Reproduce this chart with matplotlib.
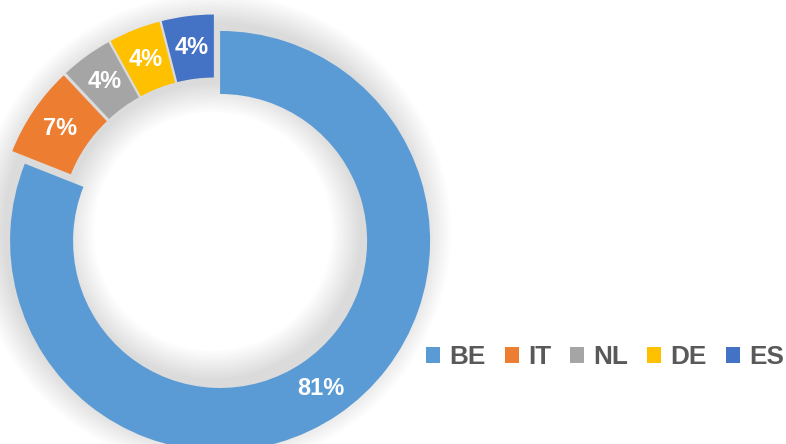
import matplotlib
matplotlib.use("Agg")
import matplotlib.pyplot as plt
from matplotlib.patches import Patch, Wedge

categories = ["BE", "IT", "NL", "DE", "ES"]
values = [81, 7, 4, 4, 4]
labels = ["81%", "7%", "4%", "4%", "4%"]
colors = ["#5B9BD5", "#ED7D31", "#A5A5A5", "#FFC000", "#4472C4"]

W, H = 786, 444
fig = plt.figure(figsize=(W / 100, H / 100), dpi=100)
ax = fig.add_axes([0, 0, 1, 1])
R = 210.0
cx, cy = 215.0, 233.5
ax.set_xlim(-cx / R, (W - cx) / R)
ax.set_ylim((cy - H) / R, cy / R)
ax.set_aspect("equal")
ax.axis("off")

# soft shadow
for i in range(12):
    ax.add_patch(Wedge((-0.01, 0.01), 1.0 + 0.012 * i, 0, 360, width=0.30 + 0.024 * i,
                       facecolor="black", alpha=0.012, edgecolor="none", zorder=0))

wedges, texts = ax.pie(values, colors=colors, startangle=90, counterclock=False,
                       explode=[0.043] * len(values), radius=1.0,
                       wedgeprops=dict(width=0.30, edgecolor="none"),
                       labels=labels, labeldistance=0.85,
                       textprops=dict(color="white", fontsize=17, fontweight="bold",
                                      family="Liberation Sans", ha="center", va="center"))
for w in wedges:
    w.set_zorder(2)
for t in texts:
    t.set_zorder(3)
ax.set_xlim(-cx / R, (W - cx) / R)
ax.set_ylim((cy - H) / R, cy / R)

handles = [Patch(facecolor=c, edgecolor="none") for c in colors]
leg = fig.legend(handles, categories, loc="center", bbox_to_anchor=(605 / W, 1 - 357 / H),
                 ncol=5, frameon=False, handlelength=0.55, handleheight=0.55,
                 handletextpad=0.35, columnspacing=0.72,
                 prop=dict(family="Liberation Sans", weight="bold", size=18.8))
for t in leg.get_texts():
    t.set_color("#595959")

fig.savefig("out.png", dpi=100)
